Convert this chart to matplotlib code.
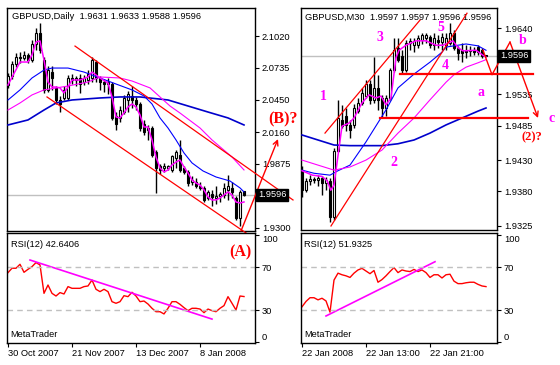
import numpy as np
import matplotlib.pyplot as plt

plt.rcParams['font.family'] = ['Liberation Sans', 'DejaVu Sans']

# ---------------- GBPUSD, Daily ----------------
d_open = [2.0581, 2.0662, 2.0770, 2.0832, 2.0823, 2.0850, 2.0805, 2.0948, 2.1047, 2.0805,
          2.0537, 2.0697, 2.0555, 2.0447, 2.0465, 2.0465, 2.0644, 2.0626, 2.0644, 2.0608,
          2.0626, 2.0644, 2.0787, 2.0644, 2.0608, 2.0590, 2.0590, 2.0304, 2.0286, 2.0339,
          2.0447, 2.0483, 2.0447, 2.0411, 2.0232, 2.0178, 2.0196, 1.9981, 1.9856, 1.9838,
          1.9838, 1.9820, 1.9927, 1.9954, 1.9838, 1.9802, 1.9712, 1.9712, 1.9676, 1.9659,
          1.9569, 1.9605, 1.9569, 1.9587, 1.9596, 1.9641, 1.9659, 1.9569, 1.9390, 1.9631]
d_high = [2.0688, 2.0796, 2.0868, 2.0877, 2.0886, 2.0868, 2.0984, 2.1092, 2.1137, 2.0832,
          2.0752, 2.0752, 2.0572, 2.0483, 2.0572, 2.0671, 2.0680, 2.0662, 2.0680, 2.0671,
          2.0715, 2.0832, 2.0805, 2.0662, 2.0635, 2.0644, 2.0608, 2.0339, 2.0393, 2.0492,
          2.0528, 2.0572, 2.0474, 2.0429, 2.0268, 2.0223, 2.0214, 1.9999, 1.9874, 1.9883,
          1.9865, 1.9954, 1.9999, 2.0089, 1.9856, 1.9820, 1.9766, 1.9748, 1.9712, 1.9676,
          1.9641, 1.9641, 1.9676, 1.9623, 1.9703, 1.9775, 1.9712, 1.9587, 1.9641, 1.9633]
d_low = [2.0555, 2.0635, 2.0743, 2.0779, 2.0805, 2.0779, 2.0787, 2.0895, 2.0868, 2.0510,
         2.0519, 2.0537, 2.0411, 2.0339, 2.0447, 2.0447, 2.0590, 2.0572, 2.0510, 2.0581,
         2.0590, 2.0608, 2.0608, 2.0537, 2.0519, 2.0501, 2.0268, 2.0178, 2.0250, 2.0322,
         2.0339, 2.0375, 2.0357, 2.0169, 2.0133, 2.0089, 1.9936, 1.9614, 1.9784, 1.9802,
         1.9820, 1.9802, 1.9838, 1.9802, 1.9784, 1.9676, 1.9685, 1.9659, 1.9641, 1.9533,
         1.9551, 1.9497, 1.9515, 1.9533, 1.9569, 1.9551, 1.9569, 1.9372, 1.9318, 1.9588]
d_close = [2.0662, 2.0770, 2.0832, 2.0823, 2.0850, 2.0805, 2.0948, 2.1047, 2.0895, 2.0537,
           2.0715, 2.0644, 2.0447, 2.0411, 2.0537, 2.0644, 2.0626, 2.0644, 2.0590, 2.0644,
           2.0680, 2.0805, 2.0644, 2.0608, 2.0590, 2.0608, 2.0286, 2.0232, 2.0357, 2.0465,
           2.0501, 2.0447, 2.0411, 2.0196, 2.0160, 2.0196, 1.9954, 1.9838, 1.9820, 1.9856,
           1.9856, 1.9945, 1.9981, 1.9820, 1.9802, 1.9703, 1.9730, 1.9676, 1.9659, 1.9551,
           1.9623, 1.9578, 1.9587, 1.9605, 1.9659, 1.9676, 1.9623, 1.9390, 1.9623, 1.9596]

# moving averages (bar index, price)
d_fast_x = [0, 3, 5, 6, 7, 8, 9, 10, 11, 12, 13, 14, 15, 16, 18, 20, 21, 22, 23, 25, 26, 27, 28, 29,
            30, 31, 32, 33, 34, 35, 36, 37, 38, 39, 40, 41, 42, 43, 44, 45, 46, 47, 48, 49, 50,
            51, 52, 53, 54, 55, 56, 57, 58, 59]
d_fast = [2.0581, 2.0787, 2.0787, 2.0850, 2.0966, 2.0976, 2.0805, 2.0608, 2.0563, 2.0563, 2.0555,
          2.0510, 2.0563, 2.0626, 2.0626, 2.0653, 2.0697, 2.0671, 2.0644, 2.0599, 2.0474, 2.0295,
          2.0286, 2.0331, 2.0384, 2.0411, 2.0384, 2.0313, 2.0205, 2.0205, 2.0089, 1.9936, 1.9838,
          1.9802, 1.9820, 1.9865, 1.9891, 1.9909, 1.9847, 1.9793, 1.9730, 1.9703, 1.9685, 1.9641,
          1.9578, 1.9551, 1.9551, 1.9569, 1.9596, 1.9623, 1.9596, 1.9533, 1.9524, 1.9533]
d_slow_x = [0, 3, 6, 9, 15, 20, 23, 28, 31, 35.5, 38, 40.5, 43, 48, 51, 56, 59]
d_slow = [2.0357, 2.0420, 2.0492, 2.0537, 2.0572, 2.0608, 2.0653, 2.0644, 2.0617, 2.0555,
          2.0474, 2.0393, 2.0330, 2.0196, 2.0089, 1.9936, 1.9820]
d_mid_x = [0, 3, 6, 9, 11, 15, 19, 23, 27, 31, 34, 36, 38, 40, 42, 44, 46, 48.75, 52, 55.5, 58, 59]
d_mid = [2.0447, 2.0537, 2.0644, 2.0715, 2.0733, 2.0733, 2.0697, 2.0644, 2.0590, 2.0537, 2.0483,
         2.0411, 2.0286, 2.0196, 2.0089, 1.9972, 1.9883, 1.9811, 1.9757, 1.9721, 1.9659, 1.9623]
d_long_x = [0, 5, 9, 12, 16, 23, 28, 33, 40, 45, 50, 55, 59]
d_long = [2.0223, 2.0268, 2.0357, 2.0420, 2.0447, 2.0465, 2.0474, 2.0474, 2.0447, 2.0393,
          2.0339, 2.0286, 2.0223]

d_rsi = [65.0, 69.1, 69.1, 72.8, 65.3, 68.1, 70.6, 74.4, 72.2, 45.6,
         53.4, 45.6, 43.1, 46.3, 45.0, 51.9, 50.3, 50.3, 50.3, 51.9,
         52.5, 58.1, 49.4, 47.2, 49.4, 47.2, 37.8, 36.3, 37.8, 43.4,
         42.5, 46.6, 43.1, 37.8, 38.4, 35.6, 31.6, 28.4, 28.4, 26.3,
         31.6, 37.8, 37.8, 35.3, 32.2, 29.4, 31.6, 31.6, 30.9, 27.5,
         30.9, 29.4, 28.4, 31.6, 34.1, 42.5, 36.3, 30.0, 43.1, 42.6]

d_dates = ["30 Oct 2007", "21 Nov 2007", "13 Dec 2007", "8 Jan 2008"]
d_date_pos = [0, 16, 32, 48]
d_ticks = [2.1020, 2.0735, 2.0450, 2.0160, 1.9875, 1.9300]

# trend lines (bar index, price)
d_chan_hi = ([16.75, 71.25], [2.0930, 1.9551])
d_chan_lo = ([9.75, 61.0], [2.0474, 1.9219])
d_arrow = ([58.25, 67.5], [1.9273, 2.0097])
d_rsi_line = ([5.5, 51.0], [76.8, 21.5])

# ---------------- GBPUSD, M30 ----------------
m_open = [1.9411, 1.9382, 1.9397, 1.9400, 1.9398, 1.9402, 1.9394, 1.9397, 1.9339, 1.9445,
          1.9494, 1.9500, 1.9486, 1.9486, 1.9508, 1.9521, 1.9532, 1.9551, 1.9526, 1.9545,
          1.9529, 1.9513, 1.9529, 1.9574, 1.9609, 1.9596, 1.9574, 1.9617, 1.9613, 1.9613,
          1.9621, 1.9625, 1.9626, 1.9613, 1.9621, 1.9618, 1.9613, 1.9617, 1.9633, 1.9609,
          1.9605, 1.9605, 1.9604, 1.9605, 1.9610, 1.9605, 1.9597]
m_high = [1.9421, 1.9402, 1.9406, 1.9403, 1.9406, 1.9404, 1.9403, 1.9402, 1.9449, 1.9526,
          1.9518, 1.9513, 1.9494, 1.9519, 1.9529, 1.9545, 1.9558, 1.9558, 1.9594, 1.9566,
          1.9534, 1.9534, 1.9577, 1.9625, 1.9625, 1.9605, 1.9621, 1.9625, 1.9625, 1.9629,
          1.9633, 1.9633, 1.9629, 1.9633, 1.9629, 1.9633, 1.9633, 1.9648, 1.9637, 1.9612,
          1.9617, 1.9613, 1.9612, 1.9610, 1.9613, 1.9609, 1.9597]
m_low = [1.9371, 1.9379, 1.9390, 1.9394, 1.9389, 1.9375, 1.9382, 1.9331, 1.9335, 1.9443,
         1.9481, 1.9476, 1.9465, 1.9481, 1.9505, 1.9518, 1.9529, 1.9519, 1.9521, 1.9510,
         1.9497, 1.9500, 1.9526, 1.9570, 1.9586, 1.9567, 1.9570, 1.9605, 1.9602, 1.9609,
         1.9615, 1.9617, 1.9609, 1.9605, 1.9609, 1.9605, 1.9605, 1.9613, 1.9605, 1.9590,
         1.9586, 1.9593, 1.9596, 1.9597, 1.9597, 1.9593, 1.9596]
m_close = [1.9382, 1.9397, 1.9400, 1.9398, 1.9402, 1.9394, 1.9398, 1.9339, 1.9445, 1.9497,
           1.9484, 1.9486, 1.9478, 1.9513, 1.9521, 1.9537, 1.9551, 1.9526, 1.9545, 1.9526,
           1.9513, 1.9529, 1.9574, 1.9605, 1.9590, 1.9574, 1.9617, 1.9620, 1.9620, 1.9625,
           1.9629, 1.9629, 1.9613, 1.9625, 1.9618, 1.9626, 1.9625, 1.9633, 1.9609, 1.9601,
           1.9601, 1.9602, 1.9605, 1.9602, 1.9602, 1.9596, 1.9596]

m_fast_x = [0, 2.6, 5, 6.3, 7.2, 8, 9.25, 10, 11.75, 13, 15, 16.75, 18.5, 19.75, 21, 22.25,
            23.5, 24.25, 26, 28.5, 31, 33.5, 35.25, 37.75, 39, 40.25, 43.5, 45.25, 46]
m_fast = [1.9413, 1.9406, 1.9404, 1.9397, 1.9382, 1.9390, 1.9449, 1.9484, 1.9489, 1.9497,
          1.9521, 1.9534, 1.9529, 1.9532, 1.9518, 1.9529, 1.9593, 1.9605, 1.9613, 1.9620,
          1.9620, 1.9613, 1.9613, 1.9620, 1.9609, 1.9604, 1.9605, 1.9597, 1.9594]
m_slow_x = [0, 4, 8, 12, 16, 20, 24, 28, 32, 36, 38, 41, 44, 46]
m_slow = [1.9430, 1.9422, 1.9414, 1.9419, 1.9430, 1.9446, 1.9473, 1.9497, 1.9526, 1.9554,
          1.9566, 1.9578, 1.9585, 1.9590]
m_mid_x = [0, 3, 7, 9, 12, 16, 21, 24, 28, 32, 35, 36, 41, 44, 46]
m_mid = [1.9414, 1.9409, 1.9406, 1.9413, 1.9422, 1.9459, 1.9510, 1.9545, 1.9567, 1.9586,
         1.9602, 1.9610, 1.9615, 1.9612, 1.9605]
m_long_x = [0, 4, 8, 12, 20, 24, 28, 32, 36, 40, 44, 46]
m_long = [1.9470, 1.9462, 1.9454, 1.9453, 1.9453, 1.9456, 1.9462, 1.9473, 1.9486, 1.9497,
          1.9508, 1.9513]

m_rsi = [33.0, 38.0, 41.5, 41.5, 39.5, 41.0, 38.5, 28.0, 58.0, 64.5,
         63.0, 62.0, 60.5, 64.5, 67.5, 69.0, 66.5, 64.0, 67.0, 56.0,
         58.5, 62.0, 66.0, 69.7, 65.0, 67.5, 66.5, 66.0, 68.0, 66.0,
         67.5, 65.0, 60.5, 63.0, 63.0, 60.0, 63.0, 63.5, 57.0, 54.7,
         54.7, 55.5, 56.0, 56.0, 54.0, 52.5, 51.9]

m_dates = ["22 Jan 2008", "22 Jan 13:00", "22 Jan 21:00"]
m_date_pos = [0, 16, 32]
m_ticks = [1.9640, 1.9535, 1.9485, 1.9430, 1.9380, 1.9325]

m_chan_hi = ([5.75, 29.5], [1.9473, 1.9653])
m_chan_lo = ([7.25, 41.25], [1.9325, 1.9664])
m_level2 = ([19.5, 56.5], [1.9497, 1.9497])
m_level4 = ([24.5, 57.75], [1.9567, 1.9567])
m_zigzag = ([45.25, 47.5, 52.0, 59.0], [1.9605, 1.9566, 1.9618, 1.9497])
m_rsi_line = ([6.0, 33.25], [24.4, 75.2])
m_waves = {"1": (5.25, 1.9531), "2": (23.0, 1.9426), "3": (19.5, 1.9625), "4": (35.75, 1.9580),
           "5": (34.75, 1.9641), "a": (44.75, 1.9537), "b": (55.25, 1.9620), "c": (62.5, 1.9497)}

last_price = 1.9596

# ---------------- drawing ----------------
W, H = 560, 365
fig = plt.figure(figsize=(W / 100, H / 100), dpi=100)


def box(x0, y0, x1, y1):
    return [x0 / W, 1 - y1 / H, (x1 - x0) / W, (y1 - y0) / H]


def frame(ax):
    for s in ax.spines.values():
        s.set_color('black')
        s.set_linewidth(1)
    ax.yaxis.tick_right()
    ax.tick_params(axis='y', direction='out', length=3, labelsize=6.7, pad=2)
    ax.tick_params(axis='x', direction='out', length=3, labelsize=6.7, pad=1)


def candles(ax, o, h, l, c):
    o, h, l, c = map(np.array, (o, h, l, c))
    x = np.arange(len(o))
    ax.vlines(x, l, h, color='black', lw=1, zorder=2)
    up = c >= o
    ax.bar(x[up], (c - o)[up], bottom=o[up], width=0.55, color='white',
           edgecolor='black', lw=0.8, zorder=3)
    ax.bar(x[~up], (o - c)[~up], bottom=c[~up], width=0.55, color='black',
           edgecolor='black', lw=0.8, zorder=3)


def price_box(ax, off):
    ax.axhline(last_price, color='#c0c0c0', lw=1, zorder=1)
    ax.text(off, last_price, '1.9596', transform=ax.get_yaxis_transform(), color='white',
            fontsize=6.7, va='center', ha='left', clip_on=False, zorder=6,
            bbox=dict(boxstyle='square,pad=0.2', facecolor='black', edgecolor='black'))


def rsi_panel(ax, vals, line, label, xpos, xlabels, xlim):
    ax.plot(np.arange(len(vals)), vals, color='red', lw=1)
    ax.plot(line[0], line[1], color='#ff00ff', lw=1.2)
    for lvl in (30, 70):
        ax.axhline(lvl, color='#c0c0c0', lw=1, ls=(0, (4, 3)))
    ax.set_xlim(*xlim)
    ax.set_ylim(-0.9, 102.1)
    ax.set_yticks([0, 30, 70, 100])
    ax.set_yticklabels(['0', '30', '70', '100'])
    labs = ax.get_yticklabels()
    labs[0].set_va('bottom')
    labs[-1].set_va('top')
    ax.set_xticks(xpos)
    ax.set_xticklabels(xlabels, ha='left')
    ax.text(0.015, 0.9, label, transform=ax.transAxes, fontsize=6.7, va='center')
    ax.text(0.015, 0.075, 'MetaTrader', transform=ax.transAxes, fontsize=6.7, va='center')


serif = dict(family='Liberation Serif', weight='bold')

# left: daily
ax1 = fig.add_axes(box(7, 8, 255, 231))
frame(ax1)
candles(ax1, d_open, d_high, d_low, d_close)
ax1.plot(d_long_x, d_long, color='#0000cc', lw=1.2, zorder=4)
ax1.plot(d_mid_x, d_mid, color='#0000ff', lw=0.8, zorder=4)
ax1.plot(d_slow_x, d_slow, color='#ff00ff', lw=0.8, zorder=4)
ax1.plot(d_fast_x, d_fast, color='#ff00ff', lw=1.1, zorder=4)
ax1.plot(d_chan_hi[0], d_chan_hi[1], color='red', lw=0.9, clip_on=False, zorder=5)
ax1.plot(d_chan_lo[0], d_chan_lo[1], color='red', lw=0.9, clip_on=False, zorder=5)
ax1.annotate('', xy=(d_arrow[0][1], d_arrow[1][1]), xytext=(d_arrow[0][0], d_arrow[1][0]),
             arrowprops=dict(arrowstyle='->', color='red', lw=1, shrinkA=0, shrinkB=0,
                             mutation_scale=9), annotation_clip=False)
ax1.text(68.75, 2.0276, '(B)?', color='red', fontsize=11.5, ha='center', va='center',
         clip_on=False, **serif)
ax1.set_xlim(-0.25, 61.75)
ax1.set_ylim(1.9273, 2.1271)
ax1.set_xticks([])
ax1.set_yticks(d_ticks)
ax1.set_yticklabels(['%.4f' % t for t in d_ticks])
price_box(ax1, 1.012)
ax1.text(0.02, 0.96, 'GBPUSD,Daily  1.9631 1.9633 1.9588 1.9596', transform=ax1.transAxes,
         fontsize=6.7, va='center')

ax2 = fig.add_axes(box(7, 233, 255, 343))
frame(ax2)
rsi_panel(ax2, d_rsi, d_rsi_line, 'RSI(12) 42.6406', d_date_pos, d_dates, (-0.25, 61.75))
ax2.text(58, 84.3, '(A)', color='red', fontsize=11.5, ha='center', va='center', **serif)

# right: M30
ax3 = fig.add_axes(box(301, 8, 497, 230))
frame(ax3)
candles(ax3, m_open, m_high, m_low, m_close)
ax3.plot(m_long_x, m_long, color='#0000cc', lw=1.2, zorder=4)
ax3.plot(m_mid_x, m_mid, color='#0000ff', lw=0.8, zorder=4)
ax3.plot(m_slow_x, m_slow, color='#ff00ff', lw=0.8, zorder=4)
ax3.plot(m_fast_x, m_fast, color='#ff00ff', lw=1.1, zorder=4)
ax3.plot(m_chan_hi[0], m_chan_hi[1], color='red', lw=0.9, zorder=5)
ax3.plot(m_chan_lo[0], m_chan_lo[1], color='red', lw=0.9, zorder=5)
ax3.plot(m_level2[0], m_level2[1], color='red', lw=1.6, clip_on=False, zorder=5)
ax3.plot(m_level4[0], m_level4[1], color='red', lw=1.6, clip_on=False, zorder=5)
ax3.plot(m_zigzag[0][:3], m_zigzag[1][:3], color='red', lw=1, clip_on=False, zorder=5)
ax3.annotate('', xy=(m_zigzag[0][3], m_zigzag[1][3]), xytext=(m_zigzag[0][2], m_zigzag[1][2]),
             arrowprops=dict(arrowstyle='->', color='red', lw=1, shrinkA=0, shrinkB=0,
                             mutation_scale=9), annotation_clip=False)
for name, (wx, wy) in m_waves.items():
    ax3.text(wx, wy, name, color='#ff00ff', fontsize=10, ha='center', va='center',
             clip_on=False, zorder=6, **serif)
ax3.text(57.5, 1.9467, '(2)?', color='red', fontsize=9, ha='center', va='center',
         clip_on=False, **serif)
ax3.set_xlim(-0.25, 48.75)
ax3.set_ylim(1.93186, 1.96723)
ax3.set_xticks([])
ax3.set_yticks(m_ticks)
ax3.set_yticklabels(['%.4f' % t for t in m_ticks])
price_box(ax3, 1.015)
ax3.text(0.02, 0.96, 'GBPUSD,M30  1.9597 1.9597 1.9596 1.9596', transform=ax3.transAxes,
         fontsize=6.7, va='center')

ax4 = fig.add_axes(box(301, 233, 497, 343))
frame(ax4)
rsi_panel(ax4, m_rsi, m_rsi_line, 'RSI(12) 51.9325', m_date_pos, m_dates, (-0.25, 48.75))

fig.savefig('out.png', dpi=100)
